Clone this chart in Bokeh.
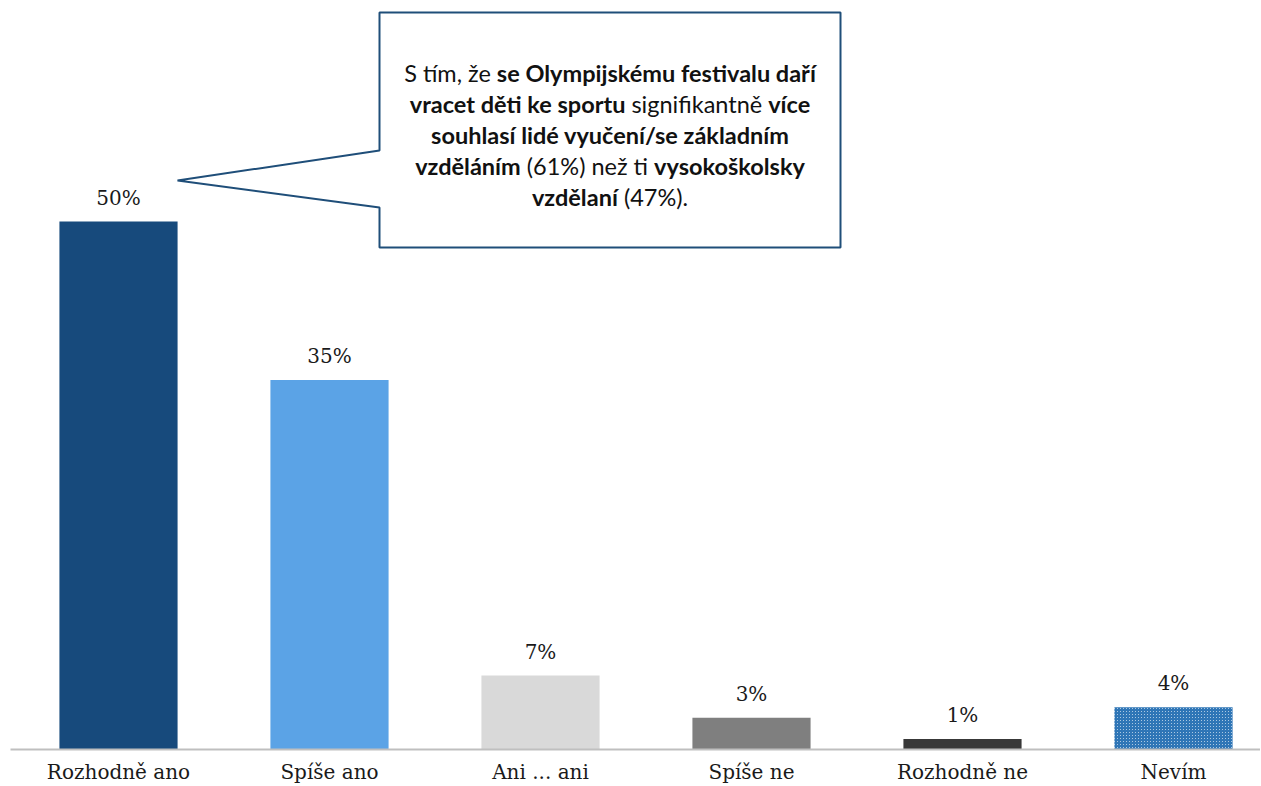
import glob
import subprocess
from bokeh.plotting import figure
from bokeh.models import Range1d, FixedTicker, ColumnDataSource, PolyAnnotation
from bokeh.core.properties import value
from bokeh.embed import file_html
from bokeh.resources import INLINE

categories = ["Rozhodně ano", "Spíše ano", "Ani ... ani", "Spíše ne", "Rozhodně ne", "Nevím"]
values = [50, 35, 7, 3, 1, 4]
labels = ["50%", "35%", "7%", "3%", "1%", "4%"]
colors = ["#174a7c", "#5ba3e6", "#d9d9d9", "#7f7f7f", "#383838", "#ffffff"]
hatches = [" ", " ", " ", " ", " ", "criss_cross"]

# callout text: (segment, bold)
note_lines = [
    [("S tím, že ", False), ("se Olympijskému festivalu daří", True)],
    [("vracet děti ke sportu", True), (" signifikantně ", False), ("více", True)],
    [("souhlasí lidé vyučení/se základním", True)],
    [("vzděláním", True), (" (61%) než ti ", False), ("vysokoškolsky", True)],
    [("vzdělaní", True), (" (47%).", False)],
]

# layout constants (page pixels)
W, H = 1260, 786
FL, FR, FT, FB = 10, 1260, 0, 749
X0, DX = 118, 211
PPU = 10.56
FS = 23.5


def px2x(px):
    return (px - X0) / DX


def px2y(py):
    return (FB - py) / PPU


def find_font(fname, pattern):
    for root in ("/usr/share/fonts", "/usr/local/share/fonts", "/root/.fonts", "/root/.local/share/fonts"):
        hits = glob.glob(f"{root}/**/{fname}", recursive=True)
        if hits:
            return hits[0]
    try:
        out = subprocess.run(["fc-match", "-f", "%{file}", pattern], capture_output=True, text=True).stdout
        return out or None
    except Exception:
        return None


measurer = {}
try:
    from PIL import ImageFont
    for bold, fn, pat in ((False, "Lato-Regular.ttf", "Lato"), (True, "Lato-Bold.ttf", "Lato:bold")):
        path = find_font(fn, pat)
        f = ImageFont.truetype(path, 100)
        measurer[bold] = (lambda ff: (lambda s, size: ff.getlength(s) * size / 100.0))(f)
except Exception:
    measurer = {}


def text_w(s, bold, size):
    if bold in measurer:
        return measurer[bold](s, size)
    return len(s) * size * (0.47 if bold else 0.45)


line_centers = [72, 103, 134, 165, 196]
box_cx = 609.5
seg_x, seg_y, seg_t, seg_s = [], [], [], []
for ln, cyl in zip(note_lines, line_centers):
    total = sum(text_w(s, b, FS) for s, b in ln)
    cur = box_cx - total / 2
    for s, b in ln:
        lead = len(s) - len(s.lstrip(" "))
        x_start = cur + text_w(" " * lead, b, FS)
        seg_x.append(px2x(x_start))
        seg_y.append(px2y(cyl))
        seg_t.append(s.strip())
        seg_s.append("bold" if b else "normal")
        cur += text_w(s, b, FS)

xs = list(range(len(categories)))
src = ColumnDataSource(dict(x=xs, top=values, color=colors, hatch=hatches, lab=labels))

p = figure(width=W, height=H, output_backend="svg", toolbar_location=None,
           x_range=Range1d(px2x(FL), px2x(FR)), y_range=Range1d(0, px2y(FT)),
           min_border_left=FL, min_border_right=0, min_border_top=0, min_border_bottom=H - FB)
p.outline_line_color = None
p.background_fill_color = "white"
p.xgrid.visible = False
p.ygrid.visible = False
p.yaxis.visible = False

p.vbar(x="x", top="top", width=0.56, source=src, fill_color="color", line_color=None,
       hatch_pattern="hatch", hatch_color="#2e75b6", hatch_scale=3, hatch_weight=1.8, hatch_alpha=1.0)

p.text(x="x", y="top", text="lab", source=src, text_align="center", text_baseline="alphabetic",
       y_offset=-24, text_font=value("DejaVu Serif"), text_font_size="20px", text_color="#1a1a1a")

ax = p.xaxis[0]
ax.ticker = FixedTicker(ticks=xs)
ax.major_label_overrides = {i: c for i, c in enumerate(categories)}
ax.major_tick_line_color = None
ax.minor_tick_line_color = None
ax.major_tick_out = 0
ax.major_tick_in = 0
ax.axis_line_color = "#bfbfbf"
ax.axis_line_width = 2
ax.major_label_standoff = 10
ax.major_label_text_font = "DejaVu Serif"
ax.major_label_text_font_size = "20px"
ax.major_label_text_color = "#1a1a1a"

# callout box with pointer
cx = [379, 840, 840, 379, 379, 177, 379]
cy = [12, 12, 247, 247, 207, 180, 150]
p.add_layout(PolyAnnotation(xs=[px2x(v) for v in cx], ys=[px2y(v) for v in cy],
                            fill_color="white", fill_alpha=1.0, level="underlay",
                            line_color="#1f4e79", line_alpha=1.0, line_width=2))

note_src = ColumnDataSource(dict(x=seg_x, y=seg_y, t=seg_t, s=seg_s))
p.text(x="x", y="y", text="t", source=note_src, text_align="left", text_baseline="middle",
       text_font=value("Lato"), text_font_size=f"{FS:.1f}px", text_font_style="s",
       text_color="#111111")

open("out.html", "w").write(file_html(p, INLINE))
